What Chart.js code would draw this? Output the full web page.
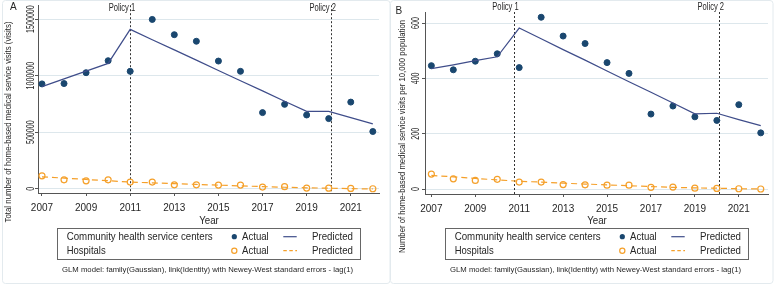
<!DOCTYPE html>
<html>
<head>
<meta charset="utf-8">
<script src="https://cdn.jsdelivr.net/npm/chart.js@4.4.1/dist/chart.umd.min.js"></script>
<style>
  html, body { margin: 0; padding: 0; background: #fff; }
  #wrap { position: relative; width: 777px; height: 286px; overflow: hidden; }
  canvas { position: absolute; top: 0; }
  #chartA { left: 0; }
  #chartB { left: 388px; }
</style>
</head>
<body>
<div id="wrap">
  <canvas id="chartA" width="390" height="286"></canvas>
  <canvas id="chartB" width="389" height="286"></canvas>
</div>
<script>
const years = [2007, 2008, 2009, 2010, 2011, 2012, 2013, 2014, 2015, 2016, 2017, 2018, 2019, 2020, 2021, 2022];
const xTickYears = [2007, 2009, 2011, 2013, 2015, 2017, 2019, 2021];

// panel A: total visits
const centersActualA = [927000, 930000, 1026000, 1132000, 1038000, 1497000, 1362000, 1304000, 1129000, 1038000, 673000, 746000, 652000, 620000, 766000, 506000];
const centersPredA = [903000, 971000, 1040000, 1108000, 1409000, 1318000, 1228000, 1137000, 1046000, 955000, 865000, 774000, 684000, 684000, 629000, 573000];
const hospActualA = [114000, 79000, 70000, 79000, 59000, 59000, 35000, 35000, 32000, 32000, 15000, 18000, 6000, 5000, 3000, 0];
const hospPredA = [105000, 94000, 82000, 71000, 59000, 52000, 45000, 38000, 32000, 25000, 19000, 13000, 8000, 5000, 1000, -2000];
const yTicksA = [0, 500000, 1000000, 1500000];
const policyYearsA = [2011, 2020.1];

// panel B: visits per 10,000 population
const centersActualB = [446, 431, 462, 489, 439, 621, 553, 526, 457, 418, 271, 300, 261, 248, 305, 203];
const centersPredB = [435, 449, 464, 478, 582, 543, 504, 466, 427, 388, 350, 311, 272, 274, 251, 229];
const hospActualB = [54, 37, 31, 35, 25, 25, 16, 15, 14, 14, 6, 7, 3, 2, 1, 0];
const hospPredB = [49, 44, 38, 33, 28, 25, 21, 18, 15, 12, 9, 6, 4, 3, 1, 0];
const yTicksB = [0, 200, 400, 600];
const policyYearsB = [2010.75, 2020.1];

const policyLabels = ["Policy 1", "Policy 2"];
const legendGroups = ["Community health service centers", "Hospitals"];
const footnote = "GLM model: family(Gaussian), link(Identity) with Newey-West standard errors - lag(1)";

const NAVY = "#1a476f";
const PRED = "#3f4d8a";
const ORANGE = "#f5a02a";
const TEXT = "#262626";
const FONT = '"Liberation Sans", Arial, sans-serif';

function pts(vals) {
    return years.map((y, i) => ({ x: y, y: vals[i] }));
}

// draw text squeezed to a given width
function fitText(ctx, text, x, y, width, size, align, rotate) {
    ctx.save();
    ctx.font = size + "px " + FONT;
    const k = width / ctx.measureText(text).width;
    ctx.translate(x, y);
    if (rotate) ctx.rotate(-Math.PI / 2);
    ctx.scale(k, 1);
    ctx.fillStyle = TEXT;
    ctx.textBaseline = "middle";
    ctx.textAlign = align;
    ctx.fillText(text, 0, 0);
    ctx.restore();
}

const panelDecor = {
    id: "panelDecor",
    beforeDatasetsDraw(chart, args, o) {
        const ctx = chart.ctx;
        const area = chart.chartArea;
        const x = chart.scales.x;
        ctx.save();
        ctx.strokeStyle = "#333";
        ctx.lineWidth = 1;
        ctx.setLineDash([2, 2]);
        o.policies.forEach((p) => {
            const px = Math.round(x.getPixelForValue(p)) + 0.5;
            ctx.beginPath();
            ctx.moveTo(px, area.top);
            ctx.lineTo(px, area.bottom);
            ctx.stroke();
        });
        ctx.restore();
    },
    afterDraw(chart, args, o) {
        const ctx = chart.ctx;
        const x = chart.scales.x;
        const y = chart.scales.y;

        // panel frame
        ctx.save();
        ctx.strokeStyle = "#e3eaee";
        ctx.lineWidth = 1;
        ctx.beginPath();
        ctx.roundRect(2.5, 0.5, o.frameRight - 2, 283, 3);
        ctx.stroke();
        ctx.restore();

        // panel letter
        fitText(ctx, o.letter, o.letterX, o.letterY, 6.7, 10.5, "center");

        // policy labels
        o.policies.forEach((p, i) => {
            const px = x.getPixelForValue(p);
            fitText(ctx, policyLabels[i], px + 5, o.policyY, 26.5, 10, "right");
        });

        // y tick labels, rotated
        o.yTicks.forEach((v) => {
            const s = String(v);
            fitText(ctx, s, o.yLabelX, y.getPixelForValue(v), s.length * 3.95, 10, "center", true);
        });

        // y title
        fitText(ctx, o.yTitle, o.yTitleX, o.yTitleY, o.yTitleLen, 8.5, "center", true);

        // x title
        fitText(ctx, "Year", 209, 221, 19.7, 10.5, "center");

        // legend box
        ctx.save();
        ctx.strokeStyle = "#666";
        ctx.lineWidth = 1;
        ctx.strokeRect(57.5, 228.5, 303, 31);
        ctx.restore();

        const rows = [236.7, 250.7];
        fitText(ctx, legendGroups[0], 66.7, rows[0], 146, 11, "left");
        fitText(ctx, legendGroups[1], 66.7, rows[1], 39, 11, "left");
        rows.forEach((ry) => {
            fitText(ctx, "Actual", 242, ry, 26.7, 11, "left");
            fitText(ctx, "Predicted", 312, ry, 41, 11, "left");
        });

        ctx.save();
        ctx.beginPath();
        ctx.arc(234.3, rows[0], 2.6, 0, Math.PI * 2);
        ctx.fillStyle = NAVY;
        ctx.fill();
        ctx.beginPath();
        ctx.arc(234.3, rows[1], 2.6, 0, Math.PI * 2);
        ctx.strokeStyle = ORANGE;
        ctx.lineWidth = 1.2;
        ctx.stroke();

        ctx.beginPath();
        ctx.strokeStyle = PRED;
        ctx.lineWidth = 1.2;
        ctx.moveTo(283.3, rows[0]);
        ctx.lineTo(296.7, rows[0]);
        ctx.stroke();
        ctx.beginPath();
        ctx.strokeStyle = ORANGE;
        ctx.setLineDash([3.5, 2.5]);
        ctx.moveTo(283.3, rows[1]);
        ctx.lineTo(297, rows[1]);
        ctx.stroke();
        ctx.restore();

        // footnote
        fitText(ctx, footnote, 207.5, 269.3, 291, 8, "center");
    },
};

function makePanel(canvasId, p) {
    const canvas = document.getElementById(canvasId);
    if (!canvas) {
        return;
    }

    return new Chart(canvas, {
        type: "scatter",
        data: {
            datasets: [
                {
                    label: "Hospitals Predicted",
                    data: pts(p.hospPred),
                    showLine: true,
                    borderColor: ORANGE,
                    borderWidth: 1.2,
                    borderDash: [6, 4],
                    pointRadius: 0,
                    fill: false,
                },
                {
                    label: "Hospitals Actual",
                    data: pts(p.hospActual),
                    pointRadius: 3,
                    pointBackgroundColor: "rgba(255,255,255,0)",
                    pointBorderColor: ORANGE,
                    pointBorderWidth: 1.2,
                },
                {
                    label: "CHSC Predicted",
                    data: pts(p.centersPred),
                    showLine: true,
                    borderColor: PRED,
                    borderWidth: 1.2,
                    pointRadius: 0,
                    fill: false,
                },
                {
                    label: "CHSC Actual",
                    data: pts(p.centersActual),
                    pointRadius: 3,
                    pointBackgroundColor: NAVY,
                    pointBorderColor: NAVY,
                    pointBorderWidth: 1,
                },
            ],
        },
        options: {
            responsive: false,
            animation: false,
            devicePixelRatio: 1,
            layout: {
                padding: { top: p.top, left: 0, right: p.right, bottom: 60 },
            },
            scales: {
                x: {
                    type: "linear",
                    min: p.xMin,
                    max: p.xMax,
                    afterBuildTicks: (scale) => {
                        scale.ticks = xTickYears.map((v) => ({ value: v }));
                    },
                    afterFit: (scale) => {
                        scale.height = 286 - 60 - p.bottom;
                    },
                    grid: {
                        drawOnChartArea: false,
                        drawTicks: true,
                        tickLength: 3,
                        tickColor: "#555",
                    },
                    border: { color: "#555", width: 1 },
                    ticks: {
                        color: TEXT,
                        padding: 6,
                        maxRotation: 0,
                        font: { family: FONT, size: 10 },
                        callback: (v) => String(v),
                    },
                },
                y: {
                    type: "linear",
                    min: p.yMin,
                    max: p.yMax,
                    afterBuildTicks: (scale) => {
                        scale.ticks = p.yTicks.map((v) => ({ value: v }));
                    },
                    afterFit: (scale) => {
                        scale.width = p.left;
                    },
                    grid: {
                        color: "#dde7ec",
                        lineWidth: 1,
                        drawTicks: true,
                        tickLength: 3,
                        tickColor: "#555",
                    },
                    border: { color: "#555", width: 1 },
                    ticks: { display: false },
                },
            },
            plugins: {
                legend: { display: false },
                tooltip: { enabled: false },
                panelDecor: p.decor,
            },
        },
        plugins: [panelDecor],
    });
}

makePanel("chartA", {
    centersActual: centersActualA,
    centersPred: centersPredA,
    hospActual: hospActualA,
    hospPred: hospPredA,
    yTicks: yTicksA,
    xMin: 2006.82,
    xMax: 2022.28,
    yMin: -37700,
    yMax: 1622800,
    top: 4,
    left: 38,
    right: 11,
    bottom: 193,
    decor: {
        letter: "A",
        letterX: 13.3,
        letterY: 7,
        policies: policyYearsA,
        policyY: 8,
        yTicks: yTicksA,
        yLabelX: 31,
        yTitle: "Total number of home-based medical service visits (visits)",
        yTitleX: 9,
        yTitleY: 122,
        yTitleLen: 201,
        frameRight: 389.5,
    },
});

makePanel("chartB", {
    centersActual: centersActualB,
    centersPred: centersPredB,
    hospActual: hospActualB,
    hospPred: hospPredB,
    yTicks: yTicksB,
    xMin: 2006.71,
    xMax: 2022.33,
    yMin: -18,
    yMax: 640,
    top: 12,
    left: 37,
    right: 9,
    bottom: 194,
    decor: {
        letter: "B",
        letterX: 10.8,
        letterY: 11,
        policies: policyYearsB,
        policyY: 7,
        yTicks: yTicksB,
        yLabelX: 27.8,
        yTitle: "Number of home-based medical service visits per 10,000 population",
        yTitleX: 15,
        yTitleY: 136.5,
        yTitleLen: 233,
        frameRight: 384.5,
    },
});
</script>
</body>
</html>
